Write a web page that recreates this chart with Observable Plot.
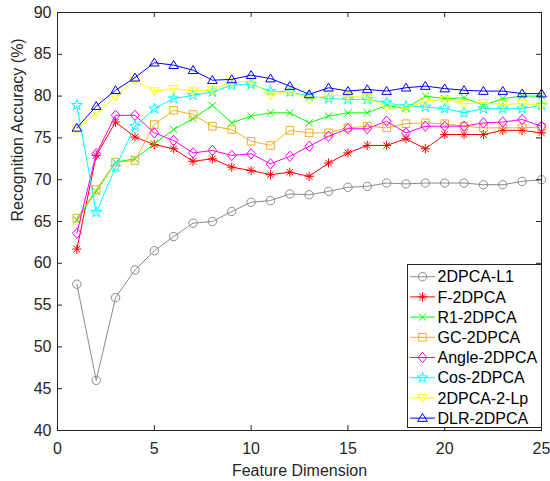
<!DOCTYPE html>
<html><head><meta charset="utf-8">
<script src="https://cdn.jsdelivr.net/npm/d3@7"></script>
<script src="https://cdn.jsdelivr.net/npm/@observablehq/plot@0.6"></script>
<style>
body{margin:0;background:#fff}
#wrap{position:relative;width:550px;height:481px}
#wrap svg text{font-family:"Liberation Sans",Arial,sans-serif}
#legend{position:absolute;left:0;top:0;pointer-events:none}
</style>
</head><body><div id="wrap"></div>
<script>
const dims = [1,2,3,4,5,6,7,8,9,10,11,12,13,14,15,16,17,18,19,20,21,22,23,24,25];
const xTicks = [0,5,10,15,20,25];
const yTicks = [40,45,50,55,60,65,70,75,80,85,90];
const names = ["2DPCA-L1","F-2DPCA","R1-2DPCA","GC-2DPCA","Angle-2DPCA","Cos-2DPCA","2DPCA-2-Lp","DLR-2DPCA"];
const colors = ["#8a8a8a","#ff0000","#00ff00","#edb120","#ff00ff","#00ffff","#ffff00","#0000ff"];
const markers = ["circle","asterisk","times","square","diamond","pentagram","triangleDown","triangleUp"];

const accL1    = [57.5,46.0,55.9,59.2,61.5,63.2,64.8,65.0,66.2,67.3,67.5,68.3,68.2,68.6,69.1,69.2,69.6,69.5,69.6,69.6,69.6,69.4,69.4,69.8,70.0];
const accF     = [61.7,72.9,76.9,75.1,74.2,73.7,72.2,72.5,71.5,71.1,70.6,70.9,70.4,72.0,73.2,74.1,74.1,74.9,73.7,75.4,75.4,75.4,75.9,75.9,75.6];
const accR1    = [65.2,68.6,72.1,72.5,74.3,76.0,77.3,78.9,76.8,77.6,78.0,78.0,76.8,77.6,78.0,78.0,78.9,78.5,80.0,79.7,79.8,78.9,79.7,80.0,80.0];
const accGC    = [65.4,68.8,72.1,72.3,76.6,78.3,77.8,76.4,76.0,74.6,74.1,75.9,75.6,75.6,76.2,76.4,76.2,76.7,76.8,76.7,76.4,76.2,76.2,76.2,76.3];
const accAngle = [63.6,73.1,77.7,77.7,75.6,74.7,73.2,73.5,72.9,73.1,71.9,72.8,74.0,75.2,76.1,76.1,77.0,75.6,76.4,76.4,76.4,76.8,76.9,77.2,76.4];
const accCos   = [78.9,66.1,71.5,76.4,78.5,79.7,80.1,80.5,81.3,81.4,80.6,80.5,80.0,79.7,79.6,79.6,79.2,78.8,78.7,78.5,78.0,78.5,78.5,78.5,78.9];
const accLp    = [76.1,78.0,79.9,81.9,80.6,80.9,80.6,80.7,81.7,81.8,80.1,80.6,79.6,80.1,80.0,79.8,78.7,78.5,79.4,79.6,79.1,79.2,79.0,79.1,78.9];
const accDLR   = [76.2,78.8,80.7,82.2,84.0,83.7,83.1,81.9,82.0,82.5,82.1,81.2,80.2,81.0,80.6,80.8,80.6,81.0,81.2,80.9,80.7,80.6,80.6,80.3,80.3];
const series = [accL1,accF,accR1,accGC,accAngle,accCos,accLp,accDLR];

const symbolDefs = {
  circle: {draw(c){const r=4.2; c.moveTo(r,0); c.arc(0,0,r,0,2*Math.PI);}},
  asterisk: {draw(c){const r=4.6, d=r*0.7071;
    c.moveTo(-r,0);c.lineTo(r,0);c.moveTo(0,-r);c.lineTo(0,r);
    c.moveTo(-d,-d);c.lineTo(d,d);c.moveTo(-d,d);c.lineTo(d,-d);}},
  times: {draw(c){const d=3.6; c.moveTo(-d,-d);c.lineTo(d,d);c.moveTo(-d,d);c.lineTo(d,-d);}},
  square: {draw(c){const h=3.8; c.moveTo(-h,-h);c.lineTo(h,-h);c.lineTo(h,h);c.lineTo(-h,h);c.closePath();}},
  diamond: {draw(c){const w=4.4,h=5.2; c.moveTo(0,-h);c.lineTo(w,0);c.lineTo(0,h);c.lineTo(-w,0);c.closePath();}},
  pentagram: {draw(c){const R=5.6, r=R*0.382;
    for(let i=0;i<10;i++){const a=-Math.PI/2+i*Math.PI/5, rr=i%2?r:R;
      const x=rr*Math.cos(a), y=rr*Math.sin(a); if(i===0)c.moveTo(x,y); else c.lineTo(x,y);} c.closePath();}},
  triangleDown: {draw(c){const w=4.8,h=4.4; c.moveTo(-w,-h*0.75);c.lineTo(w,-h*0.75);c.lineTo(0,h*1.05);c.closePath();}},
  triangleUp: {draw(c){const w=4.8,h=4.4; c.moveTo(-w,h*0.75);c.lineTo(w,h*0.75);c.lineTo(0,-h*1.05);c.closePath();}}
};

const W = 550, H = 481, mL = 57, mR = 9, mT = 12, mB = 51;
const fw = W - mL - mR, fh = H - mT - mB;
const axisColor = "#262626";

const marks = [];
series.forEach((vals, i) => {
  marks.push(Plot.line(dims, {x: d => d, y: (d, j) => vals[j], stroke: colors[i], strokeWidth: 1}));
  marks.push(Plot.dot(dims, {x: d => d, y: (d, j) => vals[j], stroke: colors[i], fill: "none", strokeWidth: 1, symbol: symbolDefs[markers[i]], r: 4}));
});

const chart = Plot.plot({
  width: W, height: H,
  marginLeft: mL, marginRight: mR, marginTop: mT, marginBottom: mB,
  style: {fontSize: "16px", fontFamily: "'Liberation Sans', Arial, sans-serif", color: axisColor, background: "#fff"},
  x: {domain: [0, 25]},
  y: {domain: [40, 90]},
  marks: [
    ...marks,
    Plot.frame({stroke: axisColor, strokeWidth: 1}),
    Plot.ruleX(xTicks, {x: d => d, insetTop: fh - 5, stroke: axisColor}),
    Plot.ruleX(xTicks, {x: d => d, insetBottom: fh - 5, stroke: axisColor}),
    Plot.ruleY(yTicks, {y: d => d, insetRight: fw - 5, stroke: axisColor}),
    Plot.ruleY(yTicks, {y: d => d, insetLeft: fw - 5, stroke: axisColor}),
    Plot.axisX({ticks: xTicks, tickSize: 0, tickPadding: 12, label: null, fill: axisColor, fontSize: 16}),
    Plot.axisY({ticks: yTicks, tickSize: 0, tickPadding: 6, label: null, fill: axisColor, fontSize: 16}),
    Plot.text(["Feature Dimension"], {text: d => d, frameAnchor: "bottom", dy: 40, lineAnchor: "middle", fill: axisColor, fontSize: 16}),
    Plot.text(["Recognition Accuracy (%)"], {text: d => d, frameAnchor: "left", dx: -40, rotate: -90, lineAnchor: "middle", fill: axisColor, fontSize: 16})
  ]
});
const wrap = document.getElementById("wrap");
wrap.appendChild(chart);

// legend inside the axes (lower right)
const lg = d3.select(wrap).append("svg").attr("id", "legend").attr("width", W).attr("height", H);
const lx = 407.5, ly = 264.5, lw = 134, lh = 163;
lg.append("rect").attr("x", lx).attr("y", ly).attr("width", lw).attr("height", lh)
  .attr("fill", "#fff").attr("stroke", axisColor).attr("stroke-width", 1);
names.forEach((n, i) => {
  const y = 276.7 + i * 20.2;
  const g = lg.append("g");
  g.append("line").attr("x1", 410).attr("x2", 435).attr("y1", y).attr("y2", y).attr("stroke", colors[i]).attr("stroke-width", 1);
  g.append("path").attr("d", d3.symbol(symbolDefs[markers[i]], 30)()).attr("transform", `translate(422.5,${y})`)
    .attr("fill", "none").attr("stroke", colors[i]).attr("stroke-width", 1);
  g.append("text").attr("x", 437.5).attr("y", y).attr("dy", "0.35em").attr("font-size", 16).attr("fill", "#000").text(n);
});
</script>
</body></html>
